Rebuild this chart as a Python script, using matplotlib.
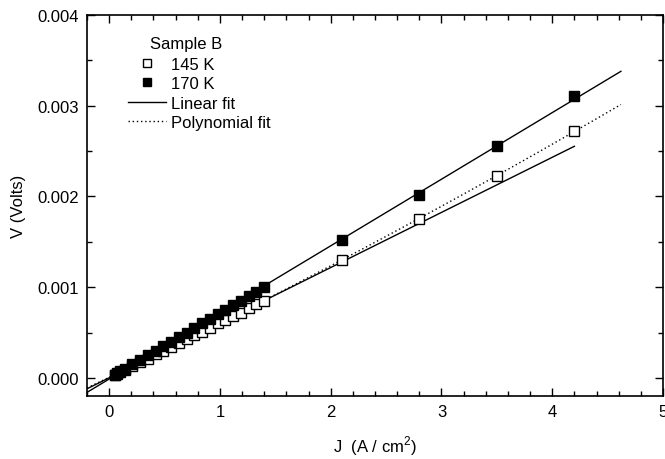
import numpy as np
import matplotlib
matplotlib.use("Agg")
import matplotlib.pyplot as plt
from matplotlib.lines import Line2D
from matplotlib.ticker import MultipleLocator

plt.rcParams["font.family"] = ["Liberation Sans", "DejaVu Sans"]
plt.rcParams["mathtext.fontset"] = "custom"
plt.rcParams["mathtext.rm"] = "Liberation Sans"

# current density (A/cm^2) and voltage (V), Sample B
J = [0.05, 0.07, 0.10, 0.14, 0.21, 0.28, 0.35, 0.42, 0.49, 0.56, 0.63,
     0.70, 0.77, 0.84, 0.91, 0.98, 1.05, 1.12, 1.19, 1.26, 1.33, 1.40,
     2.1, 2.8, 3.5, 4.2]
V_145K = [0.000030, 0.000045, 0.000060, 0.000085, 0.000130, 0.000170,
          0.000210, 0.000260, 0.000300, 0.000340, 0.000380, 0.000430,
          0.000470, 0.000510, 0.000550, 0.000600, 0.000640, 0.000680,
          0.000720, 0.000770, 0.000810, 0.000850,
          0.00130, 0.00175, 0.00223, 0.00272]
V_170K = [0.000035, 0.000050, 0.000070, 0.000100, 0.000150, 0.000200,
          0.000250, 0.000300, 0.000350, 0.000400, 0.000450, 0.000500,
          0.000550, 0.000600, 0.000650, 0.000700, 0.000750, 0.000800,
          0.000850, 0.000900, 0.000950, 0.001000,
          0.00152, 0.00202, 0.00256, 0.00311]

J = np.array(J)
V_145K = np.array(V_145K)
V_170K = np.array(V_170K)
low = J <= 1.5

# fits: 170 K linear on all points, 145 K linear on low-J points only,
# 145 K second-order polynomial on all points
p170 = np.polyfit(J, V_170K, 1)
p145_lin = np.polyfit(J[low], V_145K[low], 1)
p145_poly = np.polyfit(J, V_145K, 2)

x_long = np.linspace(-0.2, 4.62, 200)
x_short = np.linspace(-0.2, 4.2, 200)

fig = plt.figure(figsize=(6.65, 4.6), dpi=100)
ax = fig.add_axes([0.1308, 0.137, 0.8662, 0.828])

ax.plot(x_long, np.polyval(p170, x_long), color="black", lw=1.0)
ax.plot(x_short, np.polyval(p145_lin, x_short), color="black", lw=1.0)
ax.plot(x_long, np.polyval(p145_poly, x_long), color="black", lw=1.0,
        linestyle=(0, (1, 2)))

ax.plot(J, V_145K, "s", ms=7.5, mfc="white", mec="black", mew=1.0)
ax.plot(J, V_170K, "s", ms=7.5, mfc="black", mec="black", mew=1.0)

ax.set_xlim(-0.2, 5)
ax.set_ylim(-0.0002, 0.004)
ax.xaxis.set_major_locator(MultipleLocator(1))
ax.xaxis.set_minor_locator(MultipleLocator(0.2))
ax.yaxis.set_major_locator(MultipleLocator(0.001))
ax.yaxis.set_minor_locator(MultipleLocator(0.0005))
ax.yaxis.set_major_formatter(plt.FuncFormatter(lambda v, _: f"{v:.3f}"))
ax.tick_params(which="both", direction="in", top=True, right=True,
               width=1.0, labelsize=12)
ax.tick_params(which="major", length=6, pad=6)
ax.tick_params(which="minor", length=3.5)
for s in ax.spines.values():
    s.set_linewidth(1.2)

ax.set_xlabel(r"J  (A / cm$^2$)", fontsize=12, labelpad=10)
ax.set_ylabel("V (Volts)", fontsize=12, labelpad=8)

# legend
handles = [
    Line2D([], [], ls="none", marker="s", ms=5.5, mfc="white", mec="black"),
    Line2D([], [], ls="none", marker="s", ms=5.5, mfc="black", mec="black"),
    Line2D([], [], color="black", lw=1.0),
    Line2D([], [], color="black", lw=1.0, linestyle=(0, (1, 2))),
]
labels = ["145 K", "170 K", "Linear fit", "Polynomial fit"]
ax.text(150 / 665, 1 - 45 / 460, "Sample B", transform=fig.transFigure,
        fontsize=12, va="center", ha="left")
ax.legend(handles, labels, frameon=False, fontsize=12,
          loc="upper left", bbox_to_anchor=(128 / 665, 1 - 58 / 460),
          bbox_transform=fig.transFigure, borderpad=0, borderaxespad=0,
          handlelength=2.3, handletextpad=0.3, labelspacing=0.26)

fig.savefig("out.png", dpi=100)
